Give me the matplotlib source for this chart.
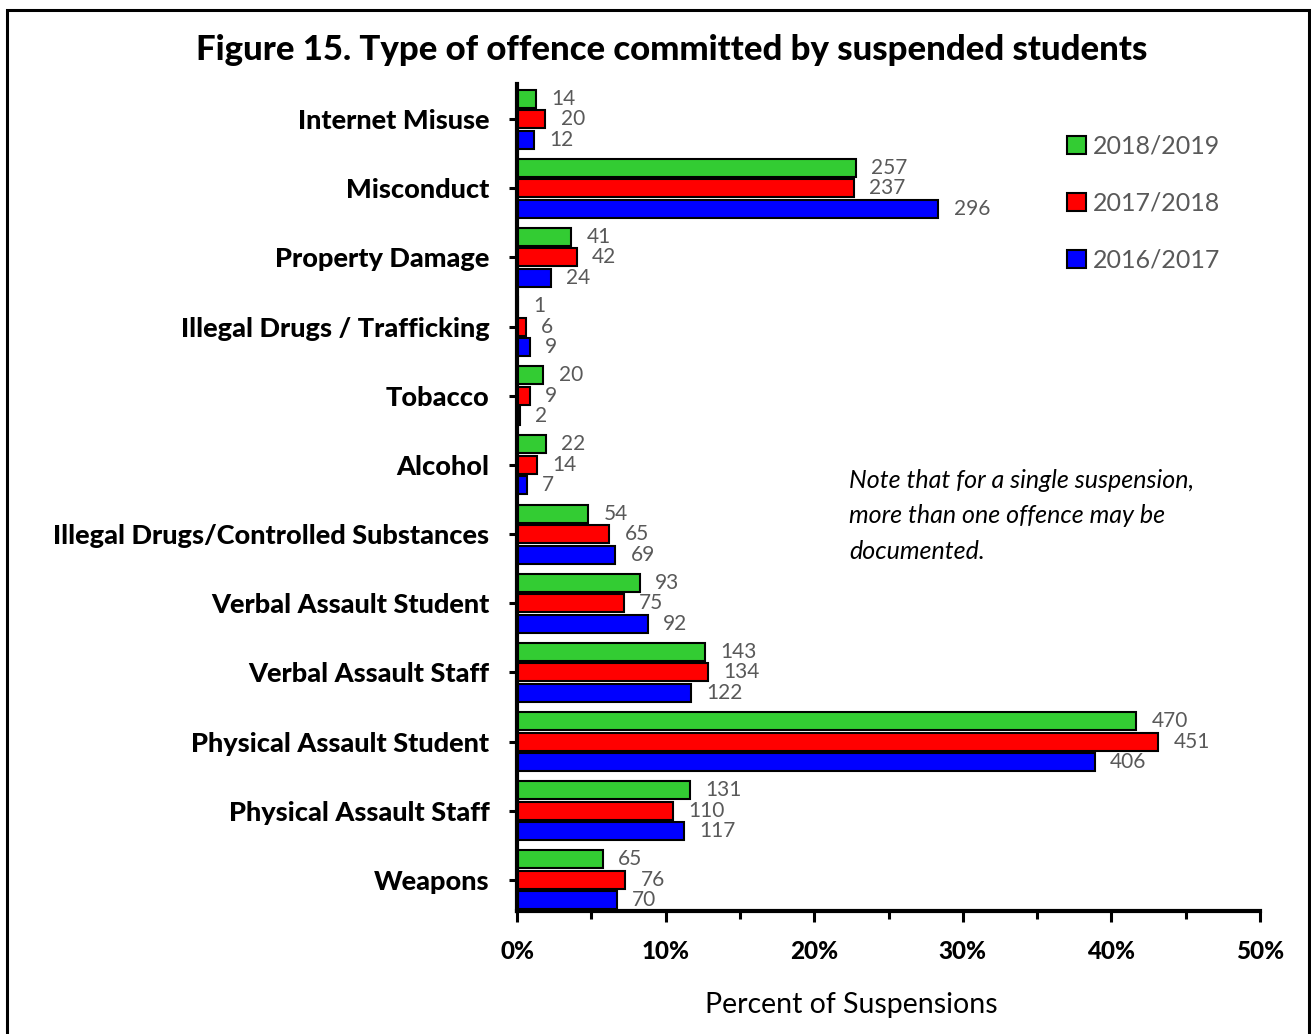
import numpy as np
import matplotlib
matplotlib.use("Agg")
import matplotlib.pyplot as plt
from matplotlib.patches import Patch, Rectangle
from matplotlib.ticker import MultipleLocator, FuncFormatter

plt.rcParams["font.family"] = ["Lato", "DejaVu Sans"]

offences = ["Internet Misuse", "Misconduct", "Property Damage",
            "Illegal Drugs / Trafficking", "Tobacco", "Alcohol",
            "Illegal Drugs/Controlled Substances", "Verbal Assault Student",
            "Verbal Assault Staff", "Physical Assault Student",
            "Physical Assault Staff", "Weapons"]
years = ["2018/2019", "2017/2018", "2016/2017"]
counts_1819 = [14, 257, 41, 1, 20, 22, 54, 93, 143, 470, 131, 65]
counts_1718 = [20, 237, 42, 6, 9, 14, 65, 75, 134, 451, 110, 76]
counts_1617 = [12, 296, 24, 9, 2, 7, 69, 92, 122, 406, 117, 70]
# total suspensions per school year (denominator for the percentages)
totals = [1128, 1045, 1044]
colors = ["#33CC33", "#FF0000", "#0000FF"]

fig = plt.figure(figsize=(13.11, 10.34), dpi=100)
ax = fig.add_axes([0.3944, 0.1190, 0.5667, 0.7997])

y = np.arange(len(offences))
step, h = 0.296, 0.26
for k, (cnt, tot, col, lab) in enumerate(zip([counts_1819, counts_1718, counts_1617],
                                             totals, colors, years)):
    pct = np.array(cnt) / tot * 100
    pos = y + (k - 1) * step
    ax.barh(pos, pct, height=h, color=col, edgecolor="black", linewidth=1.5, label=lab)
    for p, v, c in zip(pos, pct, cnt):
        ax.annotate(str(c), (v, p), xytext=(11, 0), textcoords="offset points",
                    va="center", ha="left", fontsize=15, color="#595959")

ax.set_xlim(0, 50)
ax.set_ylim(len(offences) - 0.552, -0.506)
ax.set_yticks(y)
ax.set_yticklabels(offences, fontsize=19.5, fontweight="black")
ax.xaxis.set_major_locator(MultipleLocator(10))
ax.xaxis.set_minor_locator(MultipleLocator(5))
ax.xaxis.set_major_formatter(FuncFormatter(lambda v, _: f"{v:.0f}%"))
for t in ax.get_xticklabels():
    t.set_fontweight("black")
ax.tick_params(axis="x", which="major", length=8, width=2.2, labelsize=17.5, pad=13)
ax.tick_params(axis="x", which="minor", length=6, width=2.2)
ax.tick_params(axis="y", length=6, width=2.2, pad=14)
for s in ("top", "right"):
    ax.spines[s].set_visible(False)
for s in ("left", "bottom"):
    ax.spines[s].set_linewidth(3)

fig.text(851 / 1311, 1 - 1005 / 1034, "Percent of Suspensions", fontsize=20.5,
         ha="center", va="center")

handles = [Patch(facecolor=c, edgecolor="black", linewidth=1.5) for c in colors]
leg = ax.legend(handles, years, loc="upper left", bbox_to_anchor=(0.71, 0.966),
                frameon=False, fontsize=18, handlelength=0.75, handleheight=0.75,
                handletextpad=0.3, labelspacing=1.36)
for t in leg.get_texts():
    t.set_color("#595959")

ax.text(0.447, 0.535, "Note that for a single suspension,\nmore than one offence may be\ndocumented.",
        transform=ax.transAxes, fontsize=18, style="italic", va="top", ha="left",
        linespacing=1.68)

fig.text(0.512, 1 - 50 / 1034, "Figure 15. Type of offence committed by suspended students",
         ha="center", va="center", fontsize=25, fontweight="black")
fig.patches.append(Rectangle((7 / 1311, -0.02), 1302 / 1311, 1.02 - 10 / 1034,
                             transform=fig.transFigure, fill=False,
                             edgecolor="black", linewidth=2.2))

fig.savefig("out.png", dpi=100)
